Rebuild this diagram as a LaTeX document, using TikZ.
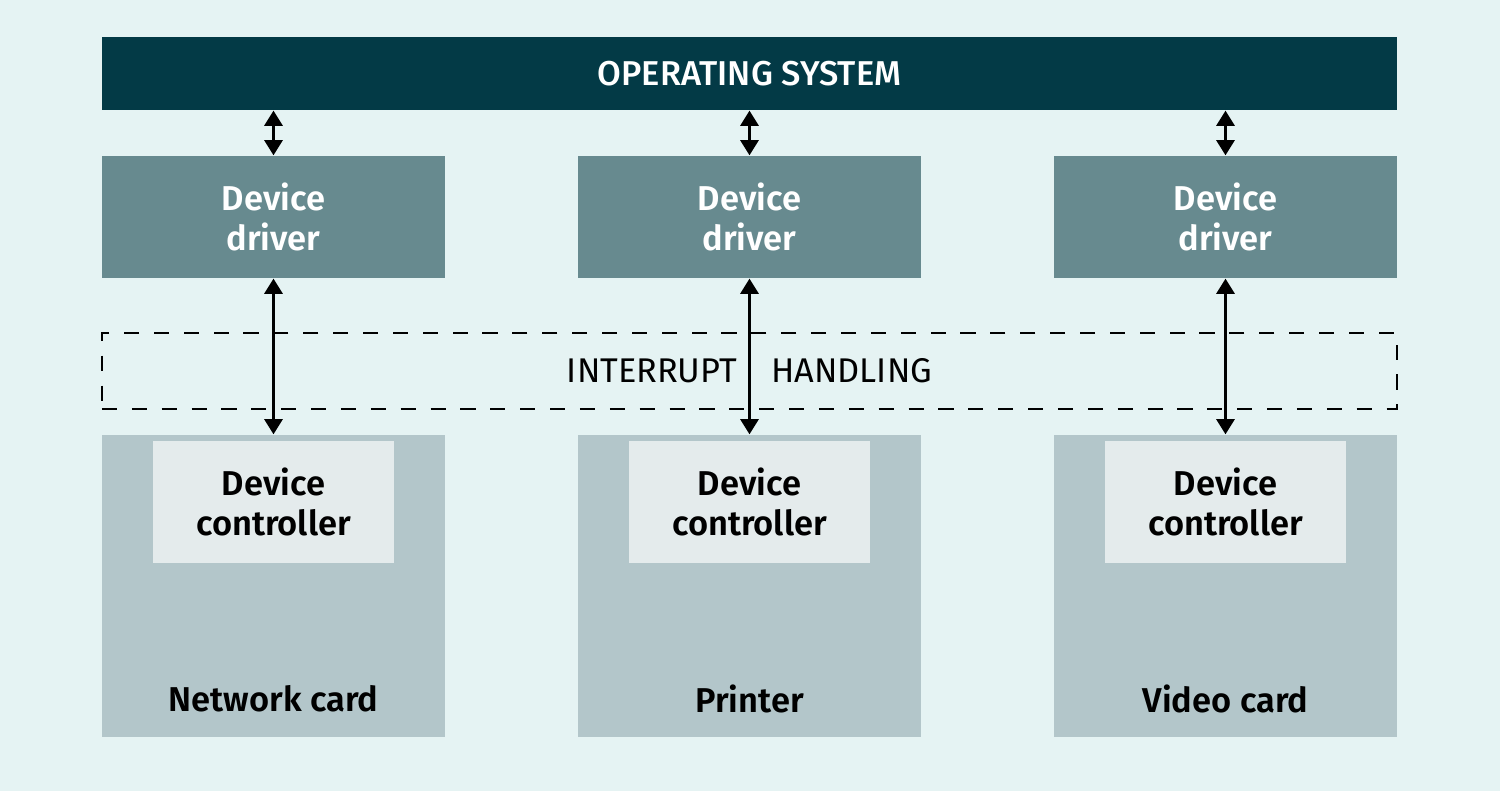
\documentclass[tikz,border=0pt]{standalone}
\usepackage{fontspec}
\setmainfont{Fira Sans}[BoldFont={Fira Sans SemiBold}]
\newfontfamily\medfont{Fira Sans Medium}
\usepackage{tikz}
\usetikzlibrary{arrows.meta}

\definecolor{bgcol}{HTML}{E5F3F3}
\definecolor{oscol}{HTML}{033A46}
\definecolor{drvcol}{HTML}{678A8F}
\definecolor{cardcol}{HTML}{B3C6CA}
\definecolor{ctlcol}{HTML}{E4EBEC}

\tikzset{
  box/.style={inner sep=0pt, align=center, minimum width=3.43cm},
  boldtext/.style={font=\fontsize{9.8}{11.3}\selectfont\bfseries},
  driverbox/.style={box, boldtext, fill=drvcol, minimum height=1.22cm, text=white},
  cardbox/.style={box, fill=cardcol, minimum height=3.02cm},
  ctlbox/.style={box, boldtext, fill=ctlcol, minimum width=2.41cm, minimum height=1.22cm},
  cardlabel/.style={boldtext},
  link/.style={{Triangle[width=5.2pt,length=4.3pt]}-{Triangle[width=5.2pt,length=4.3pt]},
    line width=0.6pt}
}

\begin{document}
\begin{tikzpicture}
  % background
  \fill[bgcol] (0,0) rectangle (15,7.91);
  \useasboundingbox (0,0) rectangle (15,7.91);

  \node[fill=oscol, minimum width=12.95cm, minimum height=0.73cm, inner sep=0pt,
    text=white, font=\fontsize{9.8}{12}\medfont] (os) at (7.495,7.175) {OPERATING SYSTEM};

  \node[draw, line width=0.6pt, dash pattern=on 4.3pt off 4.2pt,
    minimum width=12.95cm, minimum height=0.76cm, inner sep=0pt,
    font=\fontsize{9.75}{12}\selectfont] (irq) at (7.495,4.20)
    {INTERRUPT\hspace{1.0em}HANDLING};

  \foreach \i/\x/\name in {1/2.735/Network card, 2/7.495/Printer, 3/12.255/Video card} {
    \node[driverbox] (drv\i) at (\x,5.74) {Device\\driver};
    \node[cardbox] (card\i) at (\x,2.05) {};
    \node[ctlbox] (ctl\i) at (\x,2.89) {Device\\controller};
    \node[cardlabel] (lbl\i) at (\x,0.92) {\name};
    \draw[link] (os.south -| drv\i.north) -- (drv\i.north);
    \draw[link] (drv\i.south) -- (card\i.north);
  }
\end{tikzpicture}
\end{document}
